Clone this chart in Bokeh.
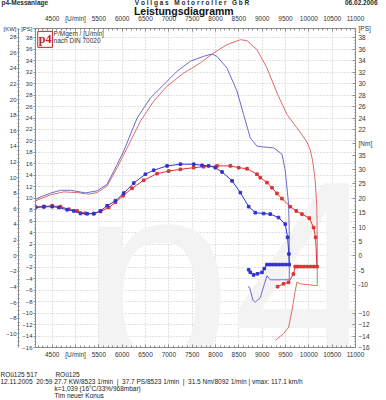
from bokeh.plotting import figure
from bokeh.models import Range1d, LinearAxis, FixedTicker, Label, Title
from bokeh.core.properties import value
from bokeh.embed import file_html
from bokeh.resources import INLINE

FONT = "Liberation Sans"
SMALL = "6.5px"
TXT = "#333333"
AXC = "#8a8a8a"
RED_P = "#e06a6a"
BLUE_P = "#6a6ad2"
RED_T = "#dd3333"
BLUE_T = "#3333cc"
NB = "\u00a0"

# ---------------- ticks / labels ----------------
rpm_ticks = [4500, 5000, 5500, 6000, 6500, 7000, 7500, 8000, 8500, 9000, 9500, 10000, 10500, 11000]
rpm_minor = list(range(4200, 11001, 100))
rpm_overrides = {5000: "[U/min]"}
ps_ticks = list(range(-16, 39, 2))
ps_minor = [v / 2 for v in range(-32, 80)]
kw_ticks = list(range(-10, 29, 2))
kw_minor = [v / 2 for v in range(-24, 59)]
right_ps_ticks = [38, 36, 34, 32, 30, 28, 26, 24, 22, -10, -12, -14, -16]
nm_tick_values = [35, 30, 25, 20, 15, 10, 5, 0, -5, -10]
title_text = "Leistungsdiagramm"
header_left = "p4-Messanlage"
header_mid = "V o l l g a s   M o t o r r o l l e r   G b R"
header_right = "06.02.2006"
footer_row1 = ("ROü125 517", "ROü125")
footer_row2 = ("12.11.2005  20:59",
               "27.7 KW/8523 1/min  |  37.7 PS/8523 1/min  |  31.5 Nm/8092 1/min | vmax: 117.1 km/h")
footer_row3 = "k=1,039 (16°C/33%/968mbar)"
footer_row4 = "Tim neuer Konus"

# ---------------- data ----------------
blue_power_rpm = [4143, 4300, 4464, 4678, 4892, 5213, 5463, 5677, 5892, 6033, 6320, 6605, 6890, 7176,
                  7461, 7746, 7925, 8032, 8246, 8460, 8602, 8745, 8888, 9030, 9244, 9424, 9495, 9566,
                  9580, 9580, 9173, 9103, 9045, 8960, 8852, 8803, 8730, 8696]
blue_power_ps = [9.85, 10.4, 10.9, 11.4, 11.4, 10.95, 11.3, 12.45, 15.9, 18.25, 24.0, 27.5, 29.8, 32.15,
                 33.9, 34.75, 35.15, 34.75, 32.7, 28.7, 24.6, 20.55, 19.1, 18.95, 18.8, 17.7, 14.8, 9.0,
                 4.35, -4.2, -4.2, -3.5, -5.0, -7.3, -8.1, -7.8, -5.5, -5.4]
red_power_rpm = [4143, 4300, 4464, 4749, 5035, 5284, 5463, 5677, 5892, 6106, 6391, 6675, 6961, 7318,
                 7675, 7960, 8246, 8532, 8675, 8888, 9103, 9317, 9531, 9745, 9960, 10031, 10083, 10137,
                 10170, 10180, 10180, 10137, 9816, 9745, 9709, 9638, 9566, 9458, 9317, 9290]
red_power_ps = [9.56, 10.1, 10.6, 11.12, 11.0, 10.72, 11.0, 12.16, 15.34, 18.8, 23.46, 26.93, 29.54, 31.85,
                33.6, 35.33, 36.79, 37.65, 37.48, 35.92, 32.72, 28.38, 24.62, 22.29, 19.8, 18.4, 16.5, 13.0,
                8.7, 3.18, -5.2, -5.2, -4.9, -4.6, -6.1, -9.6, -12.5, -13.6, -14.5, -14.8]
blue_torque_rpm = [4143, 4322, 4500, 4642, 4821, 4963, 5106, 5249, 5391, 5534, 5677, 5855, 6033, 6247,
                   6497, 6675, 6961, 7247, 7532, 7711, 7853, 7996, 8140, 8354, 8532, 8710, 8852, 9030,
                   9173, 9351, 9495, 9545, 9573, 9580, 9510, 9440, 9370, 9300, 9235, 9170, 9103, 9045,
                   8996, 8900, 8816, 8745, 8710]
blue_torque_nm = [16.8, 17.0, 17.1, 16.8, 16.0, 15.6, 14.7, 14.6, 14.7, 15.6, 17.4, 19.1, 21.8, 25.3,
                  28.4, 29.8, 31.3, 31.9, 31.9, 31.5, 31.3, 30.7, 29.2, 26.1, 22.0, 17.1, 15.0, 14.7,
                  14.5, 13.3, 11.0, 6.4, 0.6, -3.1, -3.1, -3.1, -3.1, -3.1, -3.1, -3.1, -3.1, -4.5,
                  -5.8, -6.3, -6.7, -5.8, -4.9]
red_torque_rpm = [4143, 4322, 4500, 4678, 4856, 5035, 5213, 5391, 5534, 5712, 5855, 6020, 6211, 6461,
                  6748, 6996, 7247, 7532, 7746, 8032, 8317, 8496, 8675, 8888, 8959, 9103, 9210, 9317,
                  9424, 9602, 9730, 9852, 10009, 10102, 10144, 10174, 10105, 10035, 9965, 9895, 9825,
                  9760, 9709, 9669, 9566, 9458, 9330]
red_torque_nm = [17.0, 17.2, 17.4, 17.1, 16.2, 15.6, 14.8, 14.6, 15.4, 16.8, 18.6, 20.9, 23.5, 26.3,
                 28.6, 29.5, 30.1, 30.7, 31.0, 31.3, 31.3, 30.7, 30.3, 28.4, 27.2, 25.5, 23.7, 21.7,
                 19.9, 17.1, 15.6, 14.5, 13.1, 9.8, 6.4, -3.8, -3.8, -3.8, -3.8, -3.8, -3.8,
                 -3.8, -3.8, -6.4, -9.3, -9.8, -10.8]

# watermark
wm_x = [5110]
wm_y = [-3.6]
wm_text = ["p4"]

# ---------------- scales ----------------
PS_PER_KW = 1.35962
NM_PER_PS = 2.0
PS_MIN, PS_MAX = -16.0, 39.6
RPM_MIN, RPM_MAX = 4142, 11000

p = figure(width=386, height=400,
           x_range=Range1d(RPM_MIN, RPM_MAX), y_range=Range1d(PS_MIN, PS_MAX),
           output_backend="svg", toolbar_location=None,
           min_border_left=35, min_border_right=31, min_border_top=27, min_border_bottom=53)
p.extra_y_ranges = {
    "kw": Range1d(PS_MIN / PS_PER_KW, PS_MAX / PS_PER_KW),
    "nm": Range1d(PS_MIN * NM_PER_PS, PS_MAX * NM_PER_PS),
}
p.outline_line_color = AXC
p.background_fill_color = "white"
p.border_fill_color = "white"


def style_axis(ax, tick_in=0, tick_out=2, minor_in=0, minor_out=1, standoff=2, size=SMALL):
    ax.axis_line_color = AXC
    ax.major_tick_line_color = AXC
    ax.minor_tick_line_color = AXC
    ax.major_tick_in = tick_in
    ax.major_tick_out = tick_out
    ax.minor_tick_in = minor_in
    ax.minor_tick_out = minor_out
    ax.major_label_standoff = standoff
    ax.major_label_text_font = FONT
    ax.major_label_text_font_size = size
    ax.major_label_text_color = TXT


# bottom rpm axis (with a blank spacer label before the footer lines)
xb = p.xaxis[0]
xb.ticker = FixedTicker(ticks=rpm_ticks, minor_ticks=rpm_minor)
xb.major_label_overrides = rpm_overrides
style_axis(xb, tick_in=3, tick_out=0, minor_in=2, minor_out=0, standoff=3)
xb.axis_label = " "
xb.axis_label_text_font_size = "1px"
xb.axis_label_standoff = 7

# top rpm axis carrying the chart title
xt = LinearAxis(ticker=FixedTicker(ticks=rpm_ticks, minor_ticks=rpm_minor),
                major_label_overrides=rpm_overrides)
style_axis(xt, tick_in=3, tick_out=0, minor_in=2, minor_out=0, standoff=7)
xt.axis_label = title_text + NB * 8
xt.axis_label_text_font = FONT
xt.axis_label_text_font_size = "10.5px"
xt.axis_label_text_font_style = "bold"
xt.axis_label_text_color = "#111111"
xt.axis_label_standoff = -5
p.add_layout(xt, "above")

# header line above everything
header_line = header_left + NB * 48 + header_mid.replace(" ", NB) + NB * 53 + header_right
p.add_layout(Title(text=header_line, align="left", offset=-34, standoff=-8, vertical_align="bottom",
                   text_font=FONT, text_font_size="6.5px", text_font_style="bold",
                   text_color="#2a2a2a"), "above")

TOP = PS_MAX - 0.05
LEFT_SIZE = "6px"

# left PS axis (inner)
yl = p.yaxis[0]
yl.ticker = FixedTicker(ticks=ps_ticks + [TOP], minor_ticks=ps_minor)
yl.major_label_overrides = {TOP: "[PS]"}
style_axis(yl, tick_in=0, tick_out=2, minor_in=0, minor_out=1, standoff=1, size=LEFT_SIZE)

# left KW axis (outer)
KW_TOP = TOP / PS_PER_KW
ykw = LinearAxis(y_range_name="kw", ticker=FixedTicker(ticks=kw_ticks + [KW_TOP], minor_ticks=kw_minor),
                 major_label_overrides={KW_TOP: "[KW]"})
style_axis(ykw, tick_in=0, tick_out=1, minor_in=1, minor_out=1, standoff=1, size=LEFT_SIZE)
p.add_layout(ykw, "left")

# right axis: PS on top and bottom, Nm in the middle
right_ticks = list(right_ps_ticks) + [nm / NM_PER_PS for nm in nm_tick_values] + [19.5, TOP]
right_over = {nm / NM_PER_PS: str(nm) for nm in nm_tick_values}
right_over[19.5] = "[Nm]"
right_over[TOP] = "[PS]"
yr = LinearAxis(ticker=FixedTicker(ticks=right_ticks, minor_ticks=ps_minor),
                major_label_overrides=right_over)
style_axis(yr, tick_in=3, tick_out=0, minor_in=1, minor_out=0, standoff=3)
p.add_layout(yr, "right")

# footer lines
foot_lines = [
    (footer_row1[0] + NB * 10 + footer_row1[1], -35),
    ((footer_row2[0] + NB + footer_row2[1]).replace("  ", NB + NB), -35),
    (footer_row3, 19),
    (footer_row4, 19),
]
for text, off in foot_lines:
    p.add_layout(Title(text=text, align="left", offset=off, standoff=-2, vertical_align="top",
                       text_font=FONT, text_font_size=SMALL, text_font_style="normal",
                       text_color="#222222"), "below")

# grid
p.xgrid.ticker = FixedTicker(ticks=rpm_ticks)
p.ygrid.ticker = FixedTicker(ticks=ps_ticks)
for g in (p.xgrid, p.ygrid):
    g.grid_line_color = "#c4c4c4"
    g.grid_line_dash = "1 2"
    g.grid_line_width = 1

# watermark
p.text(x=wm_x, y=wm_y, text=wm_text, text_font=value(FONT), text_font_size="272px",
       text_color="#f3f3f3", text_baseline="alphabetic", text_align="left")

# curves
p.line(red_power_rpm, red_power_ps, line_color=RED_P, line_width=1)
p.line(blue_power_rpm, blue_power_ps, line_color=BLUE_P, line_width=1)
p.line(red_torque_rpm, red_torque_nm, y_range_name="nm", line_color=RED_T, line_width=1)
p.scatter(red_torque_rpm, red_torque_nm, y_range_name="nm", marker="square", size=2.6,
          fill_color=RED_T, line_color=RED_T)
p.line(blue_torque_rpm, blue_torque_nm, y_range_name="nm", line_color=BLUE_T, line_width=1)
p.scatter(blue_torque_rpm, blue_torque_nm, y_range_name="nm", marker="square", size=2.6,
          fill_color=BLUE_T, line_color=BLUE_T)

# in-plot logo + caption
p.add_layout(Label(x=4190, y=39.1, text="p4", text_font="Liberation Serif", text_font_style="bold",
                   text_font_size="12px", text_color="#cc2222", text_baseline="top",
                   border_line_color="#cc2222", padding=1))
p.add_layout(Label(x=4530, y=39.3, text="P/Mgem / [U/min]", text_font=FONT, text_font_size=SMALL,
                   text_color=TXT, text_baseline="top"))
p.add_layout(Label(x=4530, y=38.1, text="nach DIN 70020", text_font=FONT, text_font_size=SMALL,
                   text_color=TXT, text_baseline="top"))

open("out.html", "w").write(file_html(p, INLINE))
